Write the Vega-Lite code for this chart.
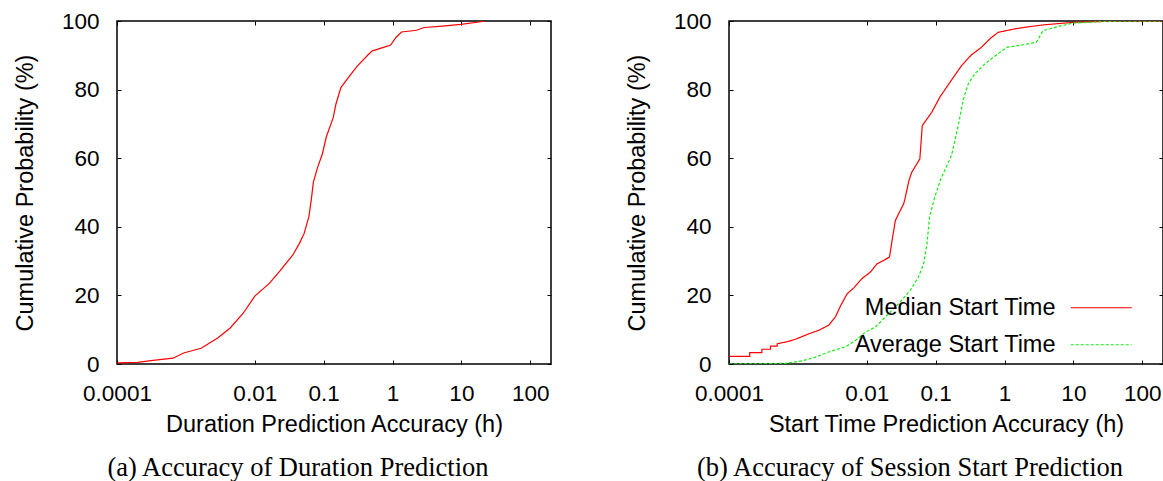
{
  "$schema": "https://vega.github.io/schema/vega-lite/v6.json",
  "background": "white",
  "padding": {"left": 12, "top": 9, "right": 0, "bottom": 0},
  "spacing": 178,
  "bounds": "flush",
  "config": {
    "view": {"stroke": "black", "strokeWidth": 1.5},
    "font": "Liberation Sans",
    "axis": {
      "grid": false,
      "domain": false,
      "tickSize": -4,
      "tickColor": "black",
      "tickWidth": 1,
      "labelColor": "black",
      "titleColor": "black",
      "labelFont": "Liberation Sans",
      "titleFont": "Liberation Sans",
      "labelFontSize": 22.5,
      "titleFontSize": 23.5,
      "titleFontWeight": "normal",
      "labelFlush": false,
      "labelOverlap": false,
      "labelBound": false
    },
    "legend": {
      "padding": 0,
      "symbolType": "M-1,0H11.2",
      "symbolSize": 100,
      "symbolStrokeWidth": 1.2,
      "labelAlign": "right",
      "labelOffset": -32,
      "labelFontSize": 23.5,
      "labelColor": "black",
      "labelFont": "Liberation Sans",
      "labelLimit": 0,
      "rowPadding": 12
    },
    "title": {"font": "Liberation Serif", "fontSize": 26.5, "fontWeight": "normal", "color": "black", "orient": "bottom", "anchor": "middle", "dx": -36, "offset": 19}
  },
  "datasets": {
    "duration": [
      {"x": 0.0001, "y": 0.3}, {"x": 0.0002, "y": 0.5}, {"x": 0.00031, "y": 1.0}, {"x": 0.00065, "y": 1.7},
      {"x": 0.00093, "y": 3.2}, {"x": 0.00166, "y": 4.6}, {"x": 0.0029, "y": 7.6}, {"x": 0.0044, "y": 10.5},
      {"x": 0.0068, "y": 14.8}, {"x": 0.01, "y": 19.8}, {"x": 0.0163, "y": 23.5}, {"x": 0.0234, "y": 27.2},
      {"x": 0.0357, "y": 31.8}, {"x": 0.0443, "y": 35.1}, {"x": 0.052, "y": 38}, {"x": 0.061, "y": 42.9},
      {"x": 0.066, "y": 47.7}, {"x": 0.071, "y": 53}, {"x": 0.082, "y": 57.4}, {"x": 0.096, "y": 61.3},
      {"x": 0.109, "y": 66.1}, {"x": 0.138, "y": 71.9}, {"x": 0.151, "y": 75.8}, {"x": 0.178, "y": 80.6},
      {"x": 0.228, "y": 83.5}, {"x": 0.31, "y": 86.9}, {"x": 0.45, "y": 90.3}, {"x": 0.51, "y": 91.3},
      {"x": 0.74, "y": 92.3}, {"x": 0.94, "y": 93.0}, {"x": 1.12, "y": 95.2}, {"x": 1.35, "y": 96.8},
      {"x": 2.24, "y": 97.3}, {"x": 2.87, "y": 98.1}, {"x": 5.3, "y": 98.5}, {"x": 9.8, "y": 99.0},
      {"x": 18, "y": 99.7}, {"x": 22, "y": 100}
    ],
    "start": [
      {"s": "Median Start Time", "x": 0.0001, "y": 2.2}, {"s": "Median Start Time", "x": 0.0002, "y": 2.2},
      {"s": "Median Start Time", "x": 0.0002, "y": 3.3}, {"s": "Median Start Time", "x": 0.0003, "y": 3.3},
      {"s": "Median Start Time", "x": 0.0003, "y": 4.3}, {"s": "Median Start Time", "x": 0.0004, "y": 4.3},
      {"s": "Median Start Time", "x": 0.0004, "y": 5.2}, {"s": "Median Start Time", "x": 0.0005, "y": 5.2},
      {"s": "Median Start Time", "x": 0.0005, "y": 5.9}, {"s": "Median Start Time", "x": 0.0007, "y": 6.5},
      {"s": "Median Start Time", "x": 0.00092, "y": 7.2}, {"s": "Median Start Time", "x": 0.00144, "y": 8.8},
      {"s": "Median Start Time", "x": 0.002, "y": 9.8}, {"s": "Median Start Time", "x": 0.0028, "y": 11.3},
      {"s": "Median Start Time", "x": 0.0035, "y": 13.7}, {"s": "Median Start Time", "x": 0.0042, "y": 17.1},
      {"s": "Median Start Time", "x": 0.0052, "y": 20.5}, {"s": "Median Start Time", "x": 0.0065, "y": 22.2},
      {"s": "Median Start Time", "x": 0.0085, "y": 24.9}, {"s": "Median Start Time", "x": 0.0113, "y": 26.8},
      {"s": "Median Start Time", "x": 0.0141, "y": 29.2}, {"s": "Median Start Time", "x": 0.0176, "y": 30.2},
      {"s": "Median Start Time", "x": 0.0214, "y": 31.2}, {"s": "Median Start Time", "x": 0.0233, "y": 36},
      {"s": "Median Start Time", "x": 0.026, "y": 41.8}, {"s": "Median Start Time", "x": 0.029, "y": 43.8},
      {"s": "Median Start Time", "x": 0.0344, "y": 46.7}, {"s": "Median Start Time", "x": 0.0359, "y": 48.2},
      {"s": "Median Start Time", "x": 0.041, "y": 53.5}, {"s": "Median Start Time", "x": 0.045, "y": 55.9},
      {"s": "Median Start Time", "x": 0.059, "y": 59.8}, {"s": "Median Start Time", "x": 0.064, "y": 69.5},
      {"s": "Median Start Time", "x": 0.088, "y": 73.4}, {"s": "Median Start Time", "x": 0.115, "y": 77.8},
      {"s": "Median Start Time", "x": 0.161, "y": 82.1}, {"s": "Median Start Time", "x": 0.238, "y": 87},
      {"s": "Median Start Time", "x": 0.33, "y": 90.1}, {"s": "Median Start Time", "x": 0.46, "y": 92.3},
      {"s": "Median Start Time", "x": 0.62, "y": 94.9}, {"s": "Median Start Time", "x": 0.81, "y": 96.7},
      {"s": "Median Start Time", "x": 1.41, "y": 97.7}, {"s": "Median Start Time", "x": 2.2, "y": 98.3},
      {"s": "Median Start Time", "x": 3.8, "y": 98.9}, {"s": "Median Start Time", "x": 10, "y": 99.6},
      {"s": "Median Start Time", "x": 30, "y": 99.9}, {"s": "Median Start Time", "x": 200, "y": 100},
      {"s": "Average Start Time", "x": 0.0001, "y": 0}, {"s": "Average Start Time", "x": 0.0003, "y": 0.05},
      {"s": "Average Start Time", "x": 0.00066, "y": 0.2}, {"s": "Average Start Time", "x": 0.00115, "y": 0.9},
      {"s": "Average Start Time", "x": 0.0018, "y": 2}, {"s": "Average Start Time", "x": 0.0028, "y": 3.5},
      {"s": "Average Start Time", "x": 0.0049, "y": 5}, {"s": "Average Start Time", "x": 0.0069, "y": 6.9},
      {"s": "Average Start Time", "x": 0.0096, "y": 9.3}, {"s": "Average Start Time", "x": 0.0134, "y": 10.8},
      {"s": "Average Start Time", "x": 0.0197, "y": 14.2}, {"s": "Average Start Time", "x": 0.029, "y": 17.6},
      {"s": "Average Start Time", "x": 0.043, "y": 21.5}, {"s": "Average Start Time", "x": 0.056, "y": 25.3},
      {"s": "Average Start Time", "x": 0.067, "y": 29.2}, {"s": "Average Start Time", "x": 0.0749, "y": 35},
      {"s": "Average Start Time", "x": 0.0815, "y": 42.8}, {"s": "Average Start Time", "x": 0.095, "y": 48},
      {"s": "Average Start Time", "x": 0.118, "y": 53.8}, {"s": "Average Start Time", "x": 0.17, "y": 60.8},
      {"s": "Average Start Time", "x": 0.213, "y": 69.5}, {"s": "Average Start Time", "x": 0.253, "y": 77.3},
      {"s": "Average Start Time", "x": 0.298, "y": 81.7}, {"s": "Average Start Time", "x": 0.37, "y": 84.6},
      {"s": "Average Start Time", "x": 0.52, "y": 87.5}, {"s": "Average Start Time", "x": 0.76, "y": 90.1},
      {"s": "Average Start Time", "x": 1.07, "y": 92.3}, {"s": "Average Start Time", "x": 1.77, "y": 93},
      {"s": "Average Start Time", "x": 2.9, "y": 93.8}, {"s": "Average Start Time", "x": 3.63, "y": 97.2},
      {"s": "Average Start Time", "x": 6, "y": 98.4}, {"s": "Average Start Time", "x": 10, "y": 99.4},
      {"s": "Average Start Time", "x": 30, "y": 99.9}, {"s": "Average Start Time", "x": 200, "y": 100}
    ]
  },
  "hconcat": [
    {
      "width": 434,
      "height": 343,
      "title": {"text": "(a) Accuracy of Duration Prediction"},
      "data": {"name": "duration"},
      "layer": [
        {
          "mark": {"type": "line", "color": "#ff0000", "strokeWidth": 1.2, "clip": true},
          "encoding": {
            "x": {"field": "x", "type": "quantitative",
                  "scale": {"type": "log", "domain": [0.0001, 200], "nice": false},
                  "axis": {"title": "Duration Prediction Accuracy (h)", "values": [0.0001, 0.01, 0.1, 1, 10, 100], "format": "~g", "labelPadding": 22, "titlePadding": 8}},
            "y": {"field": "y", "type": "quantitative",
                  "scale": {"domain": [0, 100], "nice": false},
                  "axis": {"title": "Cumulative Probability (%)", "values": [0, 20, 40, 60, 80, 100], "labelPadding": 22, "titlePadding": 24}}
          }
        },
        {
          "mark": {"type": "line", "opacity": 0},
          "encoding": {
            "x": {"field": "x", "type": "quantitative", "scale": {"type": "log", "domain": [0.0001, 200], "nice": false},
                  "axis": {"orient": "top", "title": null, "labels": false, "values": [0.0001, 0.01, 0.1, 1, 10, 100]}},
            "y": {"field": "y", "type": "quantitative", "scale": {"domain": [0, 100], "nice": false},
                  "axis": {"orient": "right", "title": null, "labels": false, "values": [0, 20, 40, 60, 80, 100]}}
          }
        }
      ],
      "resolve": {"axis": {"x": "independent", "y": "independent"}}
    },
    {
      "width": 434,
      "height": 343,
      "title": {"text": "(b) Accuracy of Session Start Prediction"},
      "data": {"name": "start"},
      "layer": [
        {
          "mark": {"type": "line", "strokeWidth": 1.2, "clip": true},
          "encoding": {
            "x": {"field": "x", "type": "quantitative",
                  "scale": {"type": "log", "domain": [0.0001, 200], "nice": false},
                  "axis": {"title": "Start Time Prediction Accuracy (h)", "values": [0.0001, 0.01, 0.1, 1, 10, 100], "format": "~g", "labelPadding": 22, "titlePadding": 8}},
            "y": {"field": "y", "type": "quantitative",
                  "scale": {"domain": [0, 100], "nice": false},
                  "axis": {"title": "Cumulative Probability (%)", "values": [0, 20, 40, 60, 80, 100], "labelPadding": 22, "titlePadding": 24}},
            "color": {"field": "s", "type": "nominal",
                      "scale": {"domain": ["Median Start Time", "Average Start Time"], "range": ["#ff0000", "#11ee11"]},
                      "legend": {"title": null, "orient": "none", "legendX": 947, "legendY": 275,
                                 "encode": {"symbols": {"update": {"strokeDash": {"scale": "strokeDash", "field": "value"}}}}}},
            "strokeDash": {"field": "s", "type": "nominal",
                           "scale": {"domain": ["Median Start Time", "Average Start Time"], "range": [[1, 0], [3, 2]]},
                           "legend": null}
          }
        },
        {
          "mark": {"type": "line", "opacity": 0},
          "encoding": {
            "x": {"field": "x", "type": "quantitative", "scale": {"type": "log", "domain": [0.0001, 200], "nice": false},
                  "axis": {"orient": "top", "title": null, "labels": false, "values": [0.0001, 0.01, 0.1, 1, 10, 100]}},
            "y": {"field": "y", "type": "quantitative", "scale": {"domain": [0, 100], "nice": false},
                  "axis": {"orient": "right", "title": null, "labels": false, "values": [0, 20, 40, 60, 80, 100]}}
          }
        }
      ],
      "resolve": {"axis": {"x": "independent", "y": "independent"}}
    }
  ]
}
